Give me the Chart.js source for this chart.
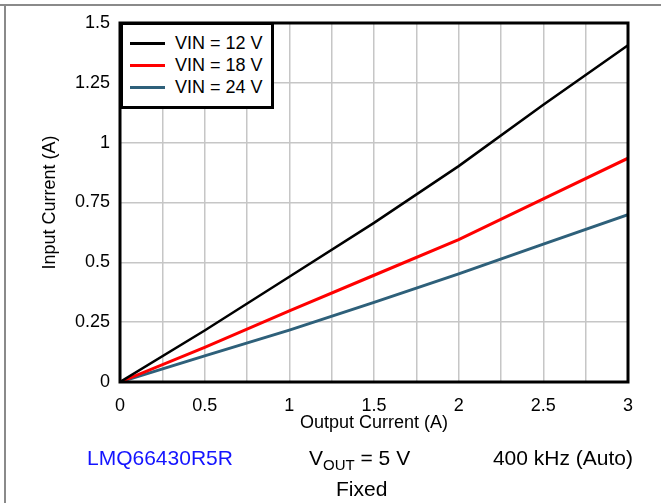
<!DOCTYPE html>
<html>
<head>
<meta charset="utf-8">
<script src="https://cdn.jsdelivr.net/npm/chart.js@4"></script>
<style>
  body { margin: 0; background: #fff; }
  #wrap { position: relative; width: 661px; height: 503px; overflow: hidden; font-family: "Liberation Sans", Arial, sans-serif; }
  #frameTop { position: absolute; left: 0; top: 4px; width: 661px; height: 2px; background: #8a8a8a; }
  #frameLeft { position: absolute; left: 4px; top: 4px; width: 2px; height: 499px; background: #8a8a8a; }
  #legend { position: absolute; left: 120px; top: 22px; width: 154px; height: 87px; box-sizing: border-box;
            border: 3px solid #000; background: #fff; padding-top: 7px; }
  .row { position: relative; height: 22px; font-size: 18px; line-height: 22px; color: #000; }
  .row .swatch { position: absolute; left: 7px; top: 10px; width: 35px; height: 3px; }
  .row .txt { position: absolute; left: 52px; top: 0; white-space: nowrap; }
  .note { position: absolute; font-size: 21px; line-height: 21px; color: #000; white-space: nowrap; }
  .note sub { font-size: 15px; vertical-align: -5px; line-height: 0; }
</style>
</head>
<body>
<div id="wrap">
  <canvas id="chart" width="661" height="503"></canvas>
  <div id="frameTop"></div>
  <div id="frameLeft"></div>
  <div id="legend"></div>
  <div class="note" style="left:87px; top:447px; color:#1414ff;">LMQ66430R5R</div>
  <div class="note" style="left:309px; top:447px;">V<sub>OUT</sub> = 5 V</div>
  <div class="note" style="right:28px; top:447px;">400 kHz (Auto)</div>
  <div class="note" style="left:336px; top:478px;">Fixed</div>
</div>
<script>
// Output current (A) at each measured point
const outputCurrent = [0, 0.5, 1, 1.5, 2, 2.5, 3];

// Input current (A) for each input voltage
const vin12 = [0, 0.215, 0.44, 0.665, 0.902, 1.158, 1.407];
const vin18 = [0, 0.145, 0.297, 0.446, 0.595, 0.765, 0.935];
const vin24 = [0, 0.109, 0.217, 0.333, 0.452, 0.576, 0.699];

const seriesLabels = ["VIN = 12 V", "VIN = 18 V", "VIN = 24 V"];
const seriesColors = ["#000000", "#ff0000", "#2e607a"];
const seriesValues = [vin12, vin18, vin24];

// Tick values
const xTicks = [0, 0.5, 1, 1.5, 2, 2.5, 3];
const yTicks = [0, 0.25, 0.5, 0.75, 1, 1.25, 1.5];

Chart.defaults.font.family = '"Liberation Sans", Arial, sans-serif';
Chart.defaults.color = "#000";

// Draw the heavy black box round the plot area
const plotBorder = {
  id: "plotBorder",
  afterDatasetsDraw(chart) {
    const { ctx, chartArea } = chart;
    ctx.save();
    ctx.strokeStyle = "#000";
    ctx.lineWidth = 3;
    ctx.strokeRect(chartArea.left, chartArea.top, chartArea.right - chartArea.left, chartArea.bottom - chartArea.top);
    ctx.restore();
  },
};

const datasets = seriesValues.map(function (values, i) {
  return {
    label: seriesLabels[i],
    data: outputCurrent.map((x, j) => ({ x: x, y: values[j] })),
    borderColor: seriesColors[i],
    backgroundColor: seriesColors[i],
    borderWidth: i === 0 ? 2.5 : 3,
    pointRadius: 0,
    tension: 0,
  };
});

const chart = new Chart(document.getElementById("chart"), {
  type: "line",
  data: { datasets: datasets },
  options: {
    responsive: false,
    animation: false,
    layout: { padding: { left: 0, right: 33, top: 23, bottom: 71 } },
    plugins: { legend: { display: false }, tooltip: { enabled: false } },
    scales: {
      x: {
        type: "linear",
        min: 0,
        max: 3,
        border: { display: false },
        grid: { color: "#c6c6c6", lineWidth: 1.5, drawTicks: false },
        ticks: {
          stepSize: 0.25,
          autoSkip: false,
          maxRotation: 0,
          padding: 15,
          font: { size: 18, lineHeight: 1 },
          callback: (v) => (xTicks.includes(v) ? String(v) : ""),
        },
        title: {
          display: true,
          text: "Output Current (A)",
          font: { size: 18, lineHeight: 1 },
          padding: { top: 1, bottom: 0 },
        },
        afterFit: (scale) => { scale.height = 50; },
      },
      y: {
        min: 0,
        max: 1.5,
        border: { display: false },
        grid: { color: "#c6c6c6", lineWidth: 1.5, drawTicks: false },
        ticks: {
          stepSize: 0.25,
          autoSkip: false,
          padding: 10,
          font: { size: 18, lineHeight: 1 },
          callback: (v) => (yTicks.includes(v) ? String(v) : ""),
        },
        title: {
          display: true,
          text: "Input Current (A)",
          font: { size: 18, lineHeight: 1 },
          padding: { top: 41, bottom: 0 },
        },
        afterFit: (scale) => { scale.width = 120; },
      },
    },
  },
  plugins: [plotBorder],
});

// Build the boxed legend from the datasets
const legendBox = document.getElementById("legend");
chart.data.datasets.forEach(function (ds) {
  const row = document.createElement("div");
  row.className = "row";
  row.innerHTML = `<span class="swatch" style="background:${ds.borderColor}"></span><span class="txt">${ds.label}</span>`;
  legendBox.appendChild(row);
});
</script>
</body>
</html>
